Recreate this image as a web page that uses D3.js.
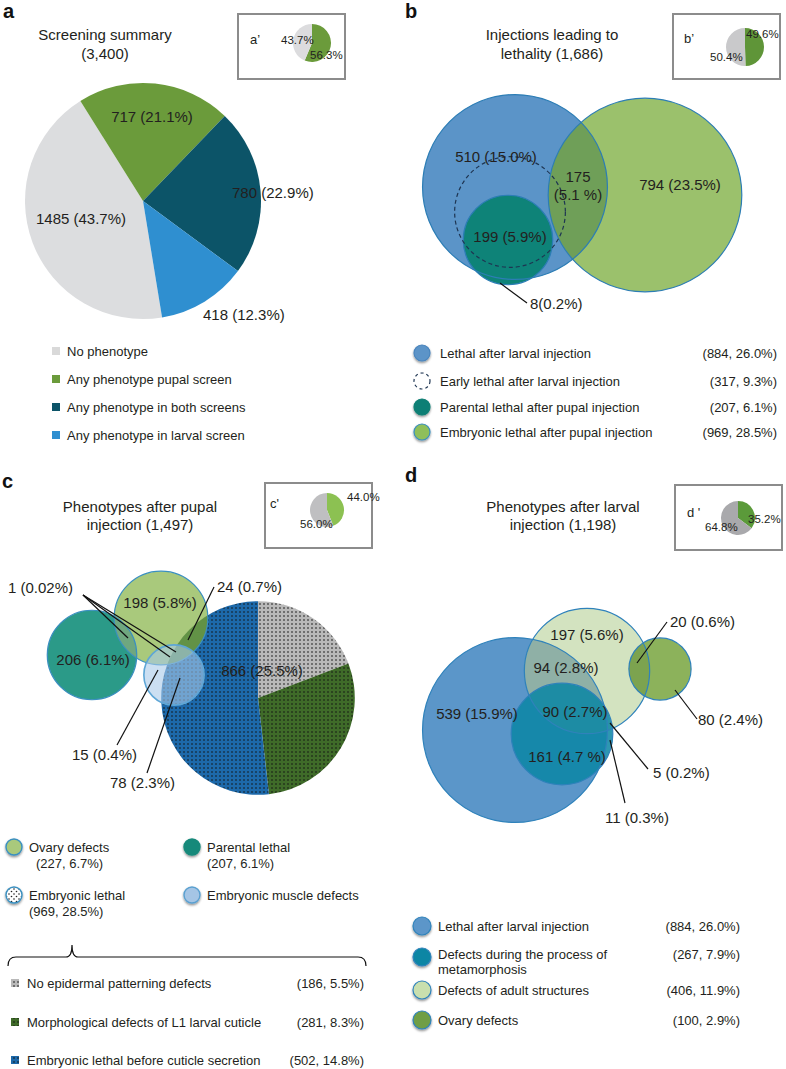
<!DOCTYPE html>
<meta charset="utf-8">
<style>
body { margin: 0; background: #fff; }
svg text { font-family: "Liberation Sans", Arial, Helvetica, sans-serif; fill: #231f20; }
.lbl { font-size: 15px; }
.leg { font-size: 13px; }
.ins { font-size: 11.5px; }
.insn { font-size: 13px; }
.panel { font-size: 20px; font-weight: bold; fill: #111; }
.lead { stroke: #111; stroke-width: 1.2; fill: none; }
</style>
<body>
<script src="https://d3js.org/d3.v7.min.js"></script>
<script>

// ---- panel a : screening summary
const aNames  = ["No phenotype", "Any phenotype pupal screen", "Any phenotype in both screens", "Any phenotype in larval screen"];
const aCounts = [1485, 717, 780, 418];
const aPct    = [43.7, 21.1, 22.9, 12.3];

// ---- insets a' b' c' d' (grey share, green share)
const insetNames = ["a\u2019", "b\u2019", "c'", "d '"];
const insetGrey  = [43.7, 50.4, 56.0, 64.8];
const insetGreen = [56.3, 49.6, 44.0, 35.2];

// ---- panel b : injections leading to lethality
const bNames  = ["Lethal after larval injection", "Early lethal after larval injection", "Parental lethal after pupal injection", "Embryonic lethal after pupal injection"];
const bCounts = [884, 317, 207, 969];
const bPct    = [26.0, 9.3, 6.1, 28.5];
const bRegionLabels = ["510 (15.0%)", "175", "(5.1 %)", "794 (23.5%)", "199 (5.9%)", "8(0.2%)"];

// ---- panel c : phenotypes after pupal injection
const cNames  = ["Ovary defects", "Parental lethal", "Embryonic lethal", "Embryonic muscle defects"];
const cCounts = [227, 207, 969, null];
const cPct    = [6.7, 6.1, 28.5, null];
const cMuscleRegions = [1, 15, 78];
const cSubNames  = ["No epidermal patterning defects", "Morphological defects of L1 larval cuticle", "Embryonic lethal before cuticle secretion"];
const cSubCounts = [186, 281, 502];
const cSubPct    = [5.5, 8.3, 14.8];
const cRegionLabels = ["1 (0.02%)", "198 (5.8%)", "24 (0.7%)", "206 (6.1%)", "866 (25.5%)", "15 (0.4%)", "78 (2.3%)"];

// ---- panel d : phenotypes after larval injection
const dNames  = ["Lethal after larval injection", "Defects during the process of|metamorphosis", "Defects of adult structures", "Ovary defects"];
const dCounts = [884, 267, 406, 100];
const dPct    = [26.0, 7.9, 11.9, 2.9];
const dRegionLabels = ["197 (5.6%)", "94 (2.8%)", "539 (15.9%)", "90 (2.7%)", "161 (4.7 %)", "20 (0.6%)", "80 (2.4%)", "5 (0.2%)", "11 (0.3%)"];

const fmt = (n, p) => "(" + n + ", " + p.toFixed(1) + "%)";

const svg = d3.select("body").append("svg").attr("width", 786).attr("height", 1069);
const defs = svg.append("defs");

// circle area proportional to count
const rScale = d3.scaleSqrt().domain([0, 969]).range([0, 96.8]);

// dotted fills for the embryonic lethal pie
const dotFills = ["#b9b9b9", "#3f6b29", "#1d69aa"];
dotFills.forEach((c, i) => {
  const p = defs.append("pattern").attr("id", "dots" + i)
    .attr("patternUnits", "userSpaceOnUse").attr("width", 4).attr("height", 4);
  p.append("rect").attr("width", 4).attr("height", 4).attr("fill", c);
  p.append("circle").attr("cx", 2).attr("cy", 2).attr("r", 0.8).attr("fill", "#111");
});
const pw = defs.append("pattern").attr("id", "dotsW").attr("patternUnits", "userSpaceOnUse").attr("width", 5).attr("height", 5);
pw.append("rect").attr("width", 5).attr("height", 5).attr("fill", "#fff");
pw.append("circle").attr("cx", 1.5).attr("cy", 1.5).attr("r", 0.8).attr("fill", "#222");
pw.append("circle").attr("cx", 4).attr("cy", 4).attr("r", 0.8).attr("fill", "#222");

const sh = defs.append("filter").attr("id", "shadow").attr("x", "-50%").attr("y", "-50%").attr("width", "200%").attr("height", "200%");
sh.append("feDropShadow").attr("dx", 0).attr("dy", 1.5).attr("stdDeviation", 1.1).attr("flood-color", "#000").attr("flood-opacity", 0.45);

function txt(g, x, y, s, cls, anchor) {
  return g.append("text").attr("x", x).attr("y", y).attr("class", cls || "lbl")
    .attr("text-anchor", anchor || "start").text(s);
}
function lead(g, x1, y1, x2, y2) {
  g.append("line").attr("class", "lead").attr("x1", x1).attr("y1", y1).attr("x2", x2).attr("y2", y2);
}
let clipN = 0;
function circ(g, c, fill, stroke) {
  return g.append("circle").attr("cx", c.x).attr("cy", c.y).attr("r", c.r)
    .attr("fill", fill).attr("stroke", stroke || "none").attr("stroke-width", 1.2);
}
// paint the part of circle a that lies inside circle b
function overlap(g, a, b, fill, op) {
  const id = "clip" + (clipN++);
  defs.append("clipPath").attr("id", id).append("circle").attr("cx", b.x).attr("cy", b.y).attr("r", b.r);
  g.append("circle").attr("cx", a.x).attr("cy", a.y).attr("r", a.r)
    .attr("fill", fill).attr("opacity", op || 1).attr("clip-path", "url(#" + id + ")");
}
function inset(i, bx, by, cx, cy, r, greyCol, greenCol, nameXY, greenXY, greyXY) {
  const g = svg.append("g");
  g.append("rect").attr("x", bx).attr("y", by).attr("width", 107).attr("height", 65)
    .attr("fill", "#fff").attr("stroke", "#8c8c8c").attr("stroke-width", 2);
  const pie = d3.pie().sort(null)([insetGreen[i], insetGrey[i]]);
  const arc = d3.arc().innerRadius(0).outerRadius(r);
  g.selectAll("path").data(pie).join("path")
    .attr("transform", `translate(${cx},${cy})`)
    .attr("d", arc).attr("fill", (d, j) => j === 0 ? greenCol : greyCol);
  txt(g, nameXY[0], nameXY[1], insetNames[i], "insn");
  txt(g, greenXY[0], greenXY[1], insetGreen[i].toFixed(1) + "%", "ins");
  txt(g, greyXY[0], greyXY[1], insetGrey[i].toFixed(1) + "%", "ins");
}

// =================== panel a
{
  const g = svg.append("g");
  txt(g, 3, 18, "a", "panel");
  txt(g, 105, 40, "Screening summary", "lbl", "middle");
  txt(g, 105, 59, "(3,400)", "lbl", "middle");
  const colors = ["#dcdddf", "#6b9b3b", "#0c5468", "#2f8fd0"];
  const start = 170.7 * Math.PI / 180;
  const pie = d3.pie().sort(null).startAngle(start).endAngle(start + 2 * Math.PI)(aCounts);
  const arc = d3.arc().innerRadius(0).outerRadius(118);
  g.append("g").attr("transform", "translate(143,201)")
    .selectAll("path").data(pie).join("path")
    .attr("d", arc).attr("fill", (d, i) => colors[i]);
  const lab = (i) => aCounts[i] + " (" + aPct[i].toFixed(1) + "%)";
  txt(g, 81, 224, lab(0), "lbl", "middle");
  txt(g, 152, 122, lab(1), "lbl", "middle");
  txt(g, 232, 198, lab(2), "lbl", "start");
  txt(g, 203, 320, lab(3), "lbl", "start");
  const legCols = ["#d9d9d9", "#6b9b3b", "#0c5468", "#2f8fd0"];
  aNames.forEach((n, i) => {
    const y = 351 + i * 28;
    g.append("rect").attr("x", 52).attr("y", y - 4).attr("width", 8).attr("height", 8).attr("fill", legCols[i]);
    txt(g, 67, y + 4.5, n, "leg");
  });
  inset(0, 238, 14, 312, 43, 19, "#dcdcde", "#6b9b3b", [250, 44], [310, 59], [281, 44]);
}

// =================== panel b
{
  const g = svg.append("g");
  txt(g, 405, 18, "b", "panel");
  txt(g, 552, 40, "Injections leading to", "lbl", "middle");
  txt(g, 552, 59, "lethality (1,686)", "lbl", "middle");
  inset(1, 673, 14, 745, 47, 19, "#c9c9cb", "#5f9538", [684, 43], [746, 38], [710, 61]);

  const blue  = {x: 515, y: 187, r: rScale(bCounts[0])};
  const early = {x: 510, y: 212, r: rScale(bCounts[1])};
  const par   = {x: 508, y: 240, r: rScale(bCounts[2])};
  const emb   = {x: 645, y: 195, r: rScale(bCounts[3])};
  const st = "#2c7db5";
  circ(g, blue, "#5b94c8");
  circ(g, par, "#0e8378");
  circ(g, emb, "#9bc16c");
  overlap(g, emb, blue, "#6f9f58");
  overlap(g, emb, par, "#3d8c62");
  [blue, par, emb].forEach(c => circ(g, c, "none", st));
  circ(g, early, "none", "#1e3552").attr("stroke-dasharray", "4,3");

  txt(g, 496, 162, bRegionLabels[0], "lbl", "middle");
  txt(g, 578, 182, bRegionLabels[1], "lbl", "middle");
  txt(g, 578, 200, bRegionLabels[2], "lbl", "middle");
  txt(g, 680, 190, bRegionLabels[3], "lbl", "middle");
  txt(g, 510, 242, bRegionLabels[4], "lbl", "middle");
  txt(g, 530, 309, bRegionLabels[5], "lbl", "start");
  lead(g, 500, 283, 527, 303);

  const icons = [
    {fill: "#5b94c8", stroke: "#4a85bd"},
    {fill: "none", stroke: "#1e3552", dash: "3,3"},
    {fill: "#0e7f74", stroke: "#0e7f74"},
    {fill: "#8fbf5a", stroke: "#3a8fbf"}
  ];
  const ys = [353, 381, 407, 432];
  bNames.forEach((n, i) => {
    const c = g.append("circle").attr("cx", 422).attr("cy", ys[i]).attr("r", 8)
      .attr("fill", icons[i].fill).attr("stroke", icons[i].stroke).attr("stroke-width", 1.2);
    if (icons[i].dash) c.attr("stroke-dasharray", icons[i].dash);
    else c.attr("filter", "url(#shadow)");
    txt(g, 440, ys[i] + 4.5, n, "leg");
    txt(g, 777, ys[i] + 4.5, fmt(bCounts[i], bPct[i]), "leg", "end");
  });
}

// =================== panel c
{
  const g = svg.append("g");
  txt(g, 2, 488, "c", "panel");
  txt(g, 140, 512, "Phenotypes after pupal", "lbl", "middle");
  txt(g, 140, 530, "injection (1,497)", "lbl", "middle");
  inset(2, 265, 483, 327, 510, 17, "#bfbfc1", "#8cc152", [270, 508], [347, 501], [300, 528]);

  const pieC = {x: 258, y: 698, r: rScale(cCounts[2])};
  const teal = {x: 92, y: 655, r: rScale(cCounts[1])};
  const ovary = {x: 161, y: 618, r: rScale(cCounts[0])};
  const muscle = {x: 174, y: 675, r: rScale(d3.sum(cMuscleRegions))};

  const pie = d3.pie().sort(null)(cSubCounts);
  const arc = d3.arc().innerRadius(0).outerRadius(pieC.r);
  g.append("g").attr("transform", `translate(${pieC.x},${pieC.y})`)
    .selectAll("path").data(pie).join("path")
    .attr("d", arc).attr("fill", (d, i) => "url(#dots" + i + ")");

  circ(g, teal, "#2b9a88");
  circ(g, ovary, "#a9c97c");
  overlap(g, ovary, teal, "#6fa77f");
  overlap(g, ovary, pieC, "#5a8c40", 0.9);
  [teal, ovary].forEach(c => circ(g, c, "none", "#3a8fc0"));
  circ(g, muscle, "#a9c9e9", "#5ea6d6").attr("fill-opacity", 0.6).attr("stroke-width", 1.6);

  txt(g, 8, 593, cRegionLabels[0]);
  lead(g, 83, 595, 128, 638);
  lead(g, 83, 595, 170, 657);
  lead(g, 83, 595, 176, 652);
  txt(g, 160, 608, cRegionLabels[1], "lbl", "middle");
  txt(g, 217, 592, cRegionLabels[2]);
  lead(g, 214, 587, 188, 640);
  txt(g, 93, 665, cRegionLabels[3], "lbl", "middle");
  txt(g, 262, 676, cRegionLabels[4], "lbl", "middle");
  txt(g, 72, 760, cRegionLabels[5]);
  lead(g, 117, 745, 158, 670);
  txt(g, 110, 788, cRegionLabels[6]);
  lead(g, 147, 773, 180, 678);

  // legend
  const icons = [
    {x: 14, y: 847, fill: "#a9c97c", stroke: "#3a90c0"},
    {x: 192, y: 847, fill: "#17897a", stroke: "#17897a"},
    {x: 14, y: 895, fill: "url(#dotsW)", stroke: "#3a90c0"},
    {x: 192, y: 895, fill: "#a5c5e5", stroke: "#5aa0d0"}
  ];
  cNames.forEach((n, i) => {
    const ic = icons[i];
    g.append("circle").attr("cx", ic.x).attr("cy", ic.y).attr("r", 8)
      .attr("fill", ic.fill).attr("stroke", ic.stroke).attr("stroke-width", 1.4)
      .attr("filter", "url(#shadow)");
    txt(g, ic.x + 15, ic.y + 5, n, "leg");
    if (cCounts[i] != null) txt(g, ic.x + (i === 0 ? 22 : 15), ic.y + 21, fmt(cCounts[i], cPct[i]), "leg");
  });
  g.append("path").attr("class", "lead")
    .attr("d", "M8,966 Q8,957 16,957 L66,957 Q72,957 72,945 Q72,957 78,957 L358,957 Q366,957 366,966");
  cSubNames.forEach((n, i) => {
    const y = [983, 1022, 1060][i];
    g.append("rect").attr("x", 11).attr("y", y - 4).attr("width", 8).attr("height", 8)
      .attr("fill", "url(#dots" + i + ")");
    txt(g, 27, y + 4.5, n, "leg");
    txt(g, 364, y + 4.5, fmt(cSubCounts[i], cSubPct[i]), "leg", "end");
  });
}

// =================== panel d
{
  const g = svg.append("g");
  txt(g, 405, 482, "d", "panel");
  txt(g, 563, 512, "Phenotypes after larval", "lbl", "middle");
  txt(g, 563, 530, "injection (1,198)", "lbl", "middle");
  inset(3, 675, 485, 738, 518, 17, "#a9a9ac", "#5b9a3a", [687, 517], [748, 523], [705, 531]);

  const blue  = {x: 515, y: 730, r: rScale(dCounts[0])};
  const teal  = {x: 562, y: 734, r: rScale(dCounts[1])};
  const adult = {x: 587, y: 671, r: rScale(dCounts[2])};
  const ovary = {x: 660, y: 669, r: rScale(dCounts[3])};
  const st = "#2f82bb";
  circ(g, blue, "#5b96c9");
  circ(g, adult, "#d3e3c0");
  overlap(g, adult, blue, "#8fb0a6");
  circ(g, teal, "#0a86a4").attr("fill-opacity", 0.86);
  circ(g, ovary, "#8cb25b");
  overlap(g, ovary, adult, "#7ca34f");
  [blue, adult, teal, ovary].forEach(c => circ(g, c, "none", st));

  const L = dRegionLabels;
  txt(g, 587, 640, L[0], "lbl", "middle");
  txt(g, 566, 673, L[1], "lbl", "middle");
  txt(g, 477, 719, L[2], "lbl", "middle");
  txt(g, 575, 717, L[3], "lbl", "middle");
  txt(g, 567, 762, L[4], "lbl", "middle");
  txt(g, 670, 627, L[5]);
  lead(g, 667, 622, 637, 663);
  txt(g, 698, 725, L[6]);
  lead(g, 697, 719, 675, 690);
  txt(g, 653, 778, L[7]);
  lead(g, 648, 769, 610, 723);
  txt(g, 605, 823, L[8]);
  lead(g, 625, 803, 610, 740);

  const fills = ["#5b96c9", "#0a86a4", "#c9dfae", "#6f9e44"];
  const ys = [926, 957, 990, 1020];
  dNames.forEach((n, i) => {
    g.append("circle").attr("cx", 422).attr("cy", ys[i]).attr("r", 9)
      .attr("fill", fills[i]).attr("stroke", "#2f82bb").attr("stroke-width", 1.2)
      .attr("filter", "url(#shadow)");
    n.split("|").forEach((line, k) => txt(g, 438, ys[i] + 4.5 - (i === 1 ? 3 : 0) + k * 15, line, "leg"));
    txt(g, 740, ys[i] + 4.5 - (i === 1 ? 3 : 0), fmt(dCounts[i], dPct[i]), "leg", "end");
  });
}
</script>
</body>
